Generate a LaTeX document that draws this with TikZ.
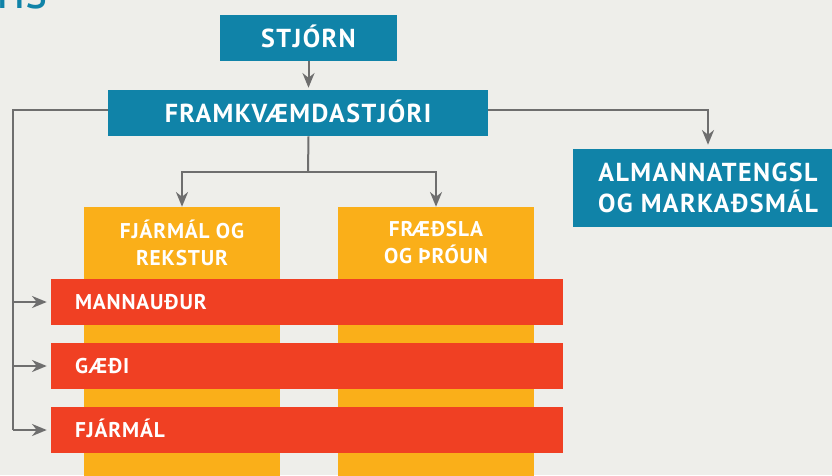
\documentclass[tikz,border=0pt]{standalone}
\usepackage{fontspec}
\setmainfont{PT Sans}
\newfontfamily\bigf{PT Sans}[LetterSpace=5.5]
\newfontfamily\smallf{PT Sans}[LetterSpace=4]
\usetikzlibrary{arrows.meta}
\definecolor{bg}{RGB}{238,238,234}
\definecolor{blu}{RGB}{16,131,168}
\definecolor{org}{RGB}{250,175,25}
\definecolor{redc}{RGB}{240,64,35}
\definecolor{ln}{RGB}{110,110,110}
\begin{document}
\begin{tikzpicture}[x=0.75pt,y=-0.75pt,
  conn/.style={draw=ln, line width=1.5pt},
  arr/.style={conn, -{Stealth[length=11pt,width=9pt,inset=3.5pt]}},
  bluebox/.style={fill=blu, text=white, inner sep=0pt, align=center, font=\bigf\bfseries\fontsize{19.5}{23.8}\selectfont},
  orgbox/.style={fill=org, inner sep=0pt, minimum width=147pt, minimum height=212.25pt},
  orgtext/.style={text=white, align=center, inner sep=0pt, font=\smallf\bfseries\fontsize{16}{20.25}\selectfont},
  redbar/.style={fill=redc, text=white, inner xsep=18pt, inner ysep=0pt, minimum height=34.5pt, text width=348pt, align=left, text height=11.2pt, text depth=0pt, font=\smallf\bfseries\fontsize{16}{19}\selectfont}
]
\useasboundingbox[fill=bg] (0,0) rectangle (832,475);

\node[anchor=base east, text=blu, font=\fontsize{40}{40}\selectfont, inner sep=0pt] (title) at (48,8) {ns};

\node[bluebox, minimum width=132.75pt, minimum height=34.5pt, text height=13.7pt, text depth=0pt] (stjorn) at (308.5,38) {STJÓRN};
\node[bluebox, minimum width=285pt, minimum height=34.5pt, text height=13.7pt, text depth=0pt] (fram) at (298,113) {FRAMKVÆMDASTJÓRI};
\node[bluebox, minimum width=202.5pt, minimum height=58.5pt] (alm) at (708,188) {ALMANNATENGSL\\OG MARKAÐSMÁL};

\node[orgbox] (org1) at (182,348.5) {};
\node[orgbox] (org2) at (436,348.5) {};
\node[orgtext] (org1t) at (182,243) {FJÁRMÁL OG\\REKSTUR};
\node[orgtext] (org2t) at (436,243) {FRÆÐSLA\\OG ÞRÓUN};

\node[redbar] (r1) at (307,302) {MANNAUÐUR};
\node[redbar] (r2) at (307,366) {GÆÐI};
\node[redbar] (r3) at (307,430) {FJÁRMÁL};

\coordinate (L) at (12.7,109);
\coordinate (b) at (308,172);

\draw[arr, shorten >=1.5pt] (stjorn.south) -- (stjorn.south |- fram.north);
\draw[conn] (stjorn.south |- fram.south) -- (b);
\draw[arr] (b) -| (org1.north);
\draw[arr] (b) -| (org2.north);
\draw[arr, shorten >=3pt] ([yshift=2.5pt]fram.east) -| (alm.north);
\draw[conn] ([yshift=2.5pt]fram.west) -| (L |- r3.west);
\draw[arr, shorten >=3pt] (L |- r1.west) -- (r1.west);
\draw[arr, shorten >=3pt] (L |- r2.west) -- (r2.west);
\draw[arr, shorten >=3pt] (L |- r3.west) -- (r3.west);
\end{tikzpicture}
\end{document}
